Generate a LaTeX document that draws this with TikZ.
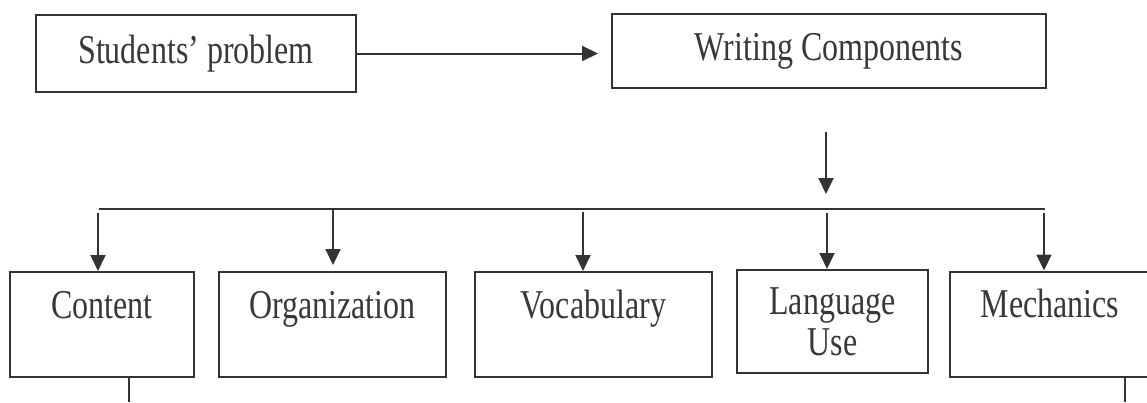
\documentclass[tikz,border=0pt]{standalone}
\usepackage{fontspec}
\setmainfont{Liberation Serif}
\usetikzlibrary{arrows.meta}
\newcommand{\estirar}[1]{\scalebox{1}[1.28]{#1}}

\begin{document}
\begin{tikzpicture}[x=0.5pt,y=-0.5pt,
        caja/.style={draw=black!80,line width=1pt,text=black!78,inner sep=0pt,
          font=\fontsize{16}{20.5}\selectfont},
        cajaalta/.style={caja,text height=23pt,text depth=29.5pt},
        flecha/.style={draw=black!80,line width=1pt,-{Triangle[length=8pt,width=7.5pt]}},
        linea/.style={draw=black!80,line width=1pt}]
      \useasboundingbox (0,0) rectangle (1147,402);
      \clip (0,0) rectangle (1147,402);
      \node [caja,minimum width=160pt,minimum height=38.5pt] (sp) at (196,53.5) {\estirar{Students' problem}};
      \node [caja,minimum width=217pt,minimum height=37pt]   (wc) at (829,51)   {\estirar{Writing Components}};
      \node [cajaalta,minimum width=92pt]    (cont) at (102,324.5)   {\estirar{Content}};
      \node [cajaalta,minimum width=113.5pt] (org)  at (332.5,324.5) {\estirar{Organization}};
      \node [cajaalta,minimum width=118.5pt] (voc)  at (593.5,324.5) {\estirar{Vocabulary}};
      \node [caja,align=center,minimum width=95.5pt,minimum height=51.5pt] (lang) at (832.5,321.5) {\estirar{Language}\\\estirar{Use}};
      \node [cajaalta,minimum width=100pt]   (mech) at (1050,324)    {\estirar{Mechanics}};
      \coordinate (wcdown) at (826,132);
      \coordinate (split)  at (826,194);
      \coordinate (barl) at (99,209);
      \coordinate (barr) at (1045,209);
      \coordinate (a1) at (98,213);
      \coordinate (a2) at (333,209);
      \coordinate (a3) at (583,212);
      \coordinate (a4) at (827,213);
      \coordinate (a5) at (1044,213);
      \coordinate (endc) at (129,402);
      \coordinate (endm) at (1125,402);
      \draw [flecha,shorten >=6.5pt] (sp.east) -- (sp.east -| wc.west);
      \draw [flecha] (wcdown) -- (split);
      \draw [linea] (barl) -- (barr);
      \draw [flecha] (a1) -- (a1 |- cont.north);
      \draw [flecha,shorten >=3pt] (a2) -- (a2 |- org.north);
      \draw [flecha] (a3) -- (a3 |- voc.north);
      \draw [flecha] (a4) -- (a4 |- lang.north);
      \draw [flecha] (a5) -- (a5 |- mech.north);
      \draw [linea] (cont.south -| endc) -- (endc);
      \draw [linea] (mech.south -| endm) -- (endm);
    \end{tikzpicture}
\end{document}
